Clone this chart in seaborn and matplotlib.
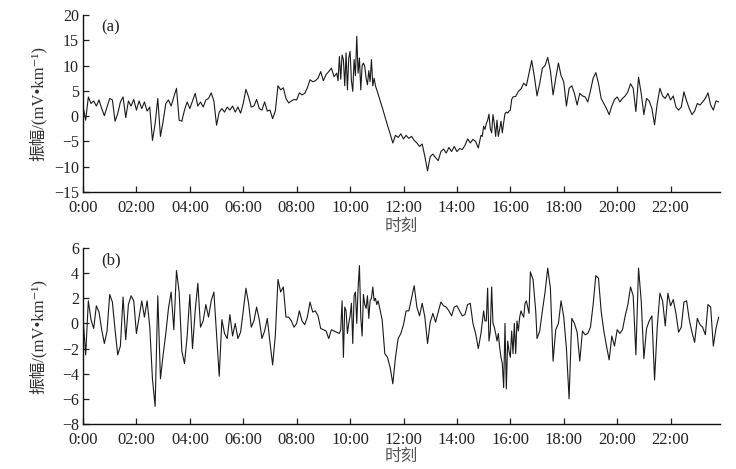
import numpy as np
import pandas as pd
import matplotlib
matplotlib.use("Agg")
import matplotlib.pyplot as plt
import seaborn as sns

# ---- data (hours, mV/km) ----
# panel (a): segments sampled every 0.1 h, dense segments every 0.05 h
amp_a_0000_0930 = [
    2.0, -0.8, 3.8, 2.5, 3.0, 2.0, 3.2, 1.5, 0.1, 1.8,
    3.5, 3.2, -1.0, 0.5, 2.8, 3.8, -0.3, 3.0, 2.0, 3.3,
    1.2, 3.0, 1.5, 2.8, 1.0, 1.8, -4.8, -1.5, 3.5, -4.0,
    -1.0, 2.5, 3.2, 2.0, 3.8, 5.5, -0.8, -1.0, 1.2, 2.8,
    1.5, 3.0, 4.5, 2.0, 2.8, 1.8, 3.2, 3.5, 4.6, 3.0,
    -1.8, 0.8, 1.5, 0.8, 1.8, 1.2, 2.0, 0.8, 1.8, 0.6,
    2.5, 5.3, 3.8, 1.8, 2.0, 3.3, 1.5, 1.2, 2.8, 1.0,
    1.2, -0.5, 1.0, 6.0, 5.2, 5.6, 3.5, 2.6, 3.0, 3.3,
    3.2, 4.6, 4.2, 4.5, 5.6, 7.2, 6.8, 7.0, 7.5, 8.8,
    7.0, 8.2, 8.8, 9.5, 7.8, 8.5,
]
amp_a_0933_1100 = [
    7.0, 11.8, 7.3, 12.1, 11.2, 6.0, 12.5, 5.2, 11.5, 12.8,
    7.0, 4.9, 11.2, 8.0, 15.8, 8.5, 11.5, 5.2, 10.0, 10.5,
    9.8, 7.5, 6.2, 9.0, 6.8, 11.2, 6.0, 7.5, 6.0, 5.2,
]
amp_a_1106_1448 = [
    3.5, 1.8, 0.0, -1.8, -3.5, -5.3, -3.8, -4.2, -3.5,
    -4.5, -3.8, -4.4, -4.0, -4.8, -5.3, -6.0, -5.5, -8.0, -10.8,
    -8.0, -7.5, -8.2, -8.8, -7.0, -6.5, -7.3, -6.2, -7.0, -6.0,
    -7.0, -6.4, -6.6, -5.8, -4.5, -5.3, -4.6, -5.0, -6.3,
]
amp_a_1454_1606 = [
    -3.8, -4.0, -2.0, -2.6, -1.5, -0.8, 0.4, -2.5, -3.3, 0.3,
    -1.5, -4.0, -0.8, -4.0, -2.6, -1.0, -3.3, -1.3, 0.5, 0.8,
    0.6, 1.0, 1.2, 3.3, 3.8,
]
amp_a_1612_2348 = [
    3.9, 4.9, 5.4, 6.5, 6.0, 8.5, 11.0, 7.8,
    4.0, 6.5, 9.5, 10.0, 11.6, 9.0, 4.2, 7.5, 10.5, 8.0,
    6.8, 2.0, 5.5, 6.0, 4.5, 2.2, 4.5, 4.0, 3.8, 2.8,
    5.0, 7.5, 8.6, 6.5, 3.5, 2.5, 1.5, 0.3, 2.0, 3.3,
    3.8, 2.8, 3.5, 4.0, 4.8, 6.4, 5.5, 0.9, 7.7, 4.5,
    0.3, 3.5, 3.0, 1.5, -1.7, 2.5, 5.5, 4.0, 3.5, 4.5,
    3.2, 4.0, 1.8, 1.2, 1.8, 4.8, 3.0, 1.5, 0.3, 1.0,
    2.5, 2.2, 2.8, 3.5, 4.6, 2.2, 1.2, 3.0, 2.8,
]
# panel (b)
amp_b_0000_0936 = [
    0.5, -2.5, 1.8, 0.3, -0.4, 1.4, 0.9, -0.5, -1.6, -0.6,
    2.3, 1.7, -0.5, -2.5, -1.8, 2.1, -1.3, 1.5, 2.2, 1.8,
    -0.8, 0.5, 1.8, 0.5, 1.8, -0.3, -4.4, -6.6, 2.2, -4.4,
    -2.5, -0.8, 1.2, 2.5, -0.5, 4.2, 2.5, -2.2, -3.2, -1.0,
    2.3, -2.0, 1.0, 3.2, -0.3, 0.2, 1.5, 0.5, 1.8, 2.5,
    -0.8, -4.2, 0.3, -0.8, -1.2, 0.7, -1.0, 0.0, -1.2, -0.7,
    1.0, 2.8, 1.6, -0.3, 0.2, 1.3, 0.3, -1.2, -0.6, 0.4,
    -1.5, -3.3, -1.0, 3.5, 2.5, 2.9, 0.5, 0.5, 0.2, -0.3,
    0.0, 1.0, 0.2, -0.1, 0.5, 1.7, 0.9, 1.0, 0.6, -0.4,
    -0.5, -0.6, -1.2, -0.5, -0.6, -0.7, -0.8,
]
amp_b_0939_1112 = [
    -0.5, 1.8, -2.7, 1.3, 1.0, -0.8, 0.0, 0.6, 1.6, -1.6,
    2.2, 2.5, 0.0, 2.8, 4.6, 0.5, -1.0, 2.3, 1.5, 1.2,
    2.2, 0.4, 1.8, 2.0, 2.9, 1.8, 2.0, 1.5, 1.8, 1.3,
    0.8, 0.3,
]
amp_b_1118_1454 = [
    -2.4, -2.7, -3.5, -4.8, -2.7, -1.2, -0.8,
    -0.1, 1.0, 1.0, 2.0, 3.0, 1.3, 0.6, 1.6, 0.5, -1.6,
    0.1, 0.8, 0.1, 0.9, 1.7, 1.4, 1.3, 1.0, 0.6, 1.3,
    1.4, 1.0, 0.6, 0.7, 1.5, 1.6, 0.0, -0.8, -2.0, -0.8,
]
amp_b_1500_1700 = [
    1.0, 0.2, 0.2, 2.8, -1.4, -0.6, 2.9, 0.0, -0.3, -0.8,
    -1.4, -0.8, -1.9, -2.7, -3.2, -5.1, 0.0, -5.2, -1.4, -2.2,
    -2.7, -0.6, -2.4, 0.0, -2.4, 0.2, -0.6, 0.5, 1.0, 0.7,
    0.5, 1.6, 1.8, 1.3, 0.8, 4.1, 3.8, 3.5, 2.3, 1.0,
    -1.2,
]
amp_b_1706_2348 = [
    -0.6, 1.0, 2.5, 4.4, 2.8, -3.0, -0.5, 0.0, 1.8,
    0.5, -2.0, -6.0, 0.4, 0.0, -0.7, -3.0, -0.6, -0.9, -0.8,
    -0.3, 1.5, 3.8, 3.6, 1.0, -0.6, -1.8, -2.9, -1.0, -1.8,
    -0.5, -0.8, -0.5, 0.6, 1.5, 2.9, 2.2, -2.5, 4.4, 1.8,
    -2.8, -0.4, 0.2, 0.6, -4.5, -0.3, 2.4, 1.8, -0.2, 2.4,
    1.4, 1.9, 0.8, -0.7, -0.3, 1.7, 1.8, 0.3, -0.7, -1.5,
    0.4, -0.1, -0.3, -0.9, 1.5, 1.3, -1.8, -0.4, 0.5,
]
# (start hour, sampling step in hours, values)
segments_a = [(0.0, 0.1, amp_a_0000_0930), (9.55, 0.05, amp_a_0933_1100),
              (11.1, 0.1, amp_a_1106_1448), (14.9, 0.05, amp_a_1454_1606),
              (16.2, 0.1, amp_a_1612_2348)]
segments_b = [(0.0, 0.1, amp_b_0000_0936), (9.65, 0.05, amp_b_0939_1112),
              (11.3, 0.1, amp_b_1118_1454), (15.0, 0.05, amp_b_1500_1700),
              (17.1, 0.1, amp_b_1706_2348)]

xtick_hours = [0, 2, 4, 6, 8, 10, 12, 14, 16, 18, 20, 22]
xtick_labels = ["0:00", "02:00", "04:00", "06:00", "08:00", "10:00",
                "12:00", "14:00", "16:00", "18:00", "20:00", "22:00"]
yticks_a = [-15, -10, -5, 0, 5, 10, 15, 20]
yticks_b = [-8, -6, -4, -2, 0, 2, 4, 6]
panel_tags = ["(a)", "(b)"]
ylabel_text = "振幅/(mV•km⁻¹)"
xlabel_text = "时刻"


def build(segments):
    hs, vs = [], []
    for start, step, vals in segments:
        hs.extend(np.round(start + np.arange(len(vals)) * step, 3))
        vs.extend(vals)
    return pd.DataFrame({"h": hs, "v": vs})


df_a = build(segments_a)
df_b = build(segments_b)

sns.set_style("ticks")
plt.rcParams["font.family"] = ["Liberation Serif", "Noto Sans CJK SC", "DejaVu Serif"]
plt.rcParams["axes.unicode_minus"] = True

W, H = 736, 469
fig = plt.figure(figsize=(W / 100, H / 100), dpi=100)
ax_a = fig.add_axes([83 / W, 1 - 192 / H, (720 - 83) / W, (192 - 15) / H])
ax_b = fig.add_axes([83 / W, 1 - 424 / H, (720 - 83) / W, (424 - 248) / H])

line_color = "#1a1a1a"
for ax, df, yt, tag in [(ax_a, df_a, yticks_a, panel_tags[0]),
                        (ax_b, df_b, yticks_b, panel_tags[1])]:
    sns.lineplot(data=df, x="h", y="v", ax=ax, color=line_color,
                 linewidth=0.8, estimator=None, sort=True)
    ax.set_xlim(0, 23.85)
    ax.set_ylim(yt[0], yt[-1])
    ax.set_xticks(xtick_hours)
    ax.set_xticklabels(xtick_labels)
    ax.set_yticks(yt)
    ax.tick_params(direction="in", length=4, width=0.9,
                   colors="#222222")
    ax.tick_params(axis="x", labelsize=12, pad=6)
    ax.tick_params(axis="y", labelsize=11.5, pad=3)
    for s in ["top", "right"]:
        ax.spines[s].set_visible(False)
    for s in ["left", "bottom"]:
        ax.spines[s].set_linewidth(1.0)
        ax.spines[s].set_color("#111111")
    ax.set_xlabel(xlabel_text, fontsize=12, color="#555555")
    ax.set_ylabel(ylabel_text, fontsize=12, color="#333333")
    ax.yaxis.set_label_coords(-0.057, 0.5)
    ax.text(0.028, 0.93, tag, transform=ax.transAxes, fontsize=12,
            color="#222222", va="center", ha="left")

ax_a.xaxis.set_label_coords(0.5, -0.15)
ax_b.xaxis.set_label_coords(0.5, -0.14)

fig.savefig("out.png", dpi=100)
